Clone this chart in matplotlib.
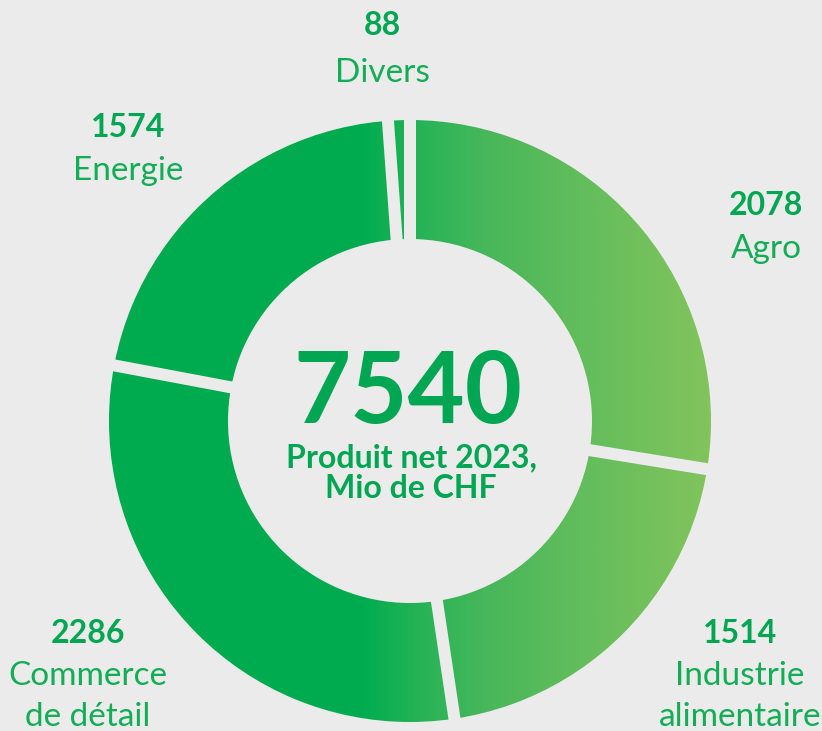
import numpy as np
import matplotlib
matplotlib.use("Agg")
from matplotlib import pyplot as plt
from matplotlib.patches import Wedge
from matplotlib.colors import LinearSegmentedColormap

# data (Mio CHF), clockwise from 12 o'clock
categories = ["Agro", "Industrie\nalimentaire", "Commerce\nde détail", "Energie", "Divers"]
values = [2078, 1514, 2286, 1574, 88]
total_label = "7540"
subtitle = "Produit net 2023,\nMio de CHF"

W, H = 822, 731
BG = "#ebebeb"
GREEN = "#00a651"
LABEL_GREEN = "#12ad55"
FONT = ["Lato", "Open Sans", "DejaVu Sans"]

# geometry in pixel units (y measured from top)
cx, cy = 410, 421
r_out, r_in = 301, 182
gap_px = 12

# label anchors: (x center, baseline of number, baseline of first text line)
label_pos = {
    "Agro": (766, 215, 258),
    "Industrie\nalimentaire": (740, 643, 685),
    "Commerce\nde détail": (88, 643, 685),
    "Energie": (128, 137, 180),
    "Divers": (382, 35, 82),
}


def px(x, y):
    return x, H - y


fig = plt.figure(figsize=(W / 100, H / 100), dpi=100, facecolor=BG)
ax = fig.add_axes([0, 0, 1, 1])
ax.set_xlim(0, W)
ax.set_ylim(0, H)
ax.set_aspect("equal")
ax.axis("off")
ax.set_facecolor(BG)

center = px(cx, cy)

# donut with horizontal gradient (dark left, light right)
cmap = LinearSegmentedColormap.from_list(
    "grad",
    [(0.0, "#00aa4f"), (0.42, "#00ac50"), (0.52, "#28b357"),
     (0.62, "#46b75a"), (0.78, "#62bd5c"), (1.0, "#82c45c")],
)
ring = Wedge(center, r_out, 0, 360, width=r_out - r_in, facecolor="none", edgecolor="none")
ax.add_patch(ring)
grad = np.linspace(0, 1, 512).reshape(1, -1)
im = ax.imshow(grad, cmap=cmap, aspect="auto", interpolation="bilinear",
               extent=[cx - r_out, cx + r_out, H - cy - r_out, H - cy + r_out])
im.set_clip_path(ring)

# gaps between segments
total = sum(values)
angle = 90.0
bounds = [angle]
for v in values:
    angle -= v / total * 360
    bounds.append(angle)
for a in bounds[:-1]:
    t = np.deg2rad(a)
    xs = [center[0] + (r_in - 10) * np.cos(t), center[0] + (r_out + 10) * np.cos(t)]
    ys = [center[1] + (r_in - 10) * np.sin(t), center[1] + (r_out + 10) * np.sin(t)]
    ax.plot(xs, ys, color=BG, lw=gap_px * 0.72, solid_capstyle="butt", zorder=3)

# centre text
ax.text(*px(408, 423), total_label, ha="center", va="baseline", fontsize=71,
        fontweight="bold", color=GREEN, family=FONT)
sub_lines = subtitle.split("\n")
for i, line in enumerate(sub_lines):
    ax.text(*px(411, 467 + 31 * i), line, ha="center", va="baseline", fontsize=23,
            fontweight="bold", color=GREEN, family=FONT)

# segment labels
for cat, val in zip(categories, values):
    x, yb_num, yb_txt = label_pos[cat]
    ax.text(*px(x, yb_num), f"{val}", ha="center", va="baseline", fontsize=23,
            fontweight="bold", color=GREEN, family=FONT)
    for i, line in enumerate(cat.split("\n")):
        ax.text(*px(x, yb_txt + 41 * i), line, ha="center", va="baseline", fontsize=24,
                fontweight="normal", color=LABEL_GREEN, family=FONT)

fig.savefig("out.png", dpi=100, facecolor=BG)
